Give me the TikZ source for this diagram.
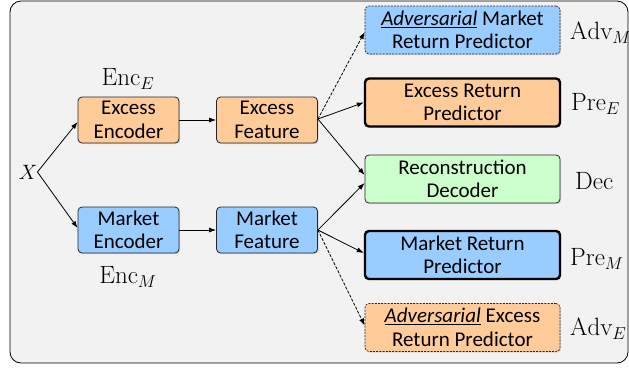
\documentclass[tikz,border=0pt]{standalone}
\usepackage{fontspec}
\newfontfamily\boxfont{Carlito}
\usetikzlibrary{arrows.meta,shadows,calc}
\definecolor{bgc}{HTML}{F2F2F2}
\definecolor{orfill}{HTML}{FFCC99}
\definecolor{blfill}{HTML}{99CCFF}
\definecolor{grfill}{HTML}{CCFFCC}
\definecolor{edgec}{HTML}{262626}
\begin{document}
\begin{tikzpicture}[x=1pt,y=-1pt,
  box/.style={draw=edgec,line width=0.8pt,rounded corners=4pt,align=center,inner sep=0pt,
    font=\boxfont\fontsize{21}{23.5}\selectfont,
    drop shadow={opacity=0.25,shadow xshift=1.2pt,shadow yshift=-1.2pt}},
  smallbox/.style={box,minimum width=101pt,minimum height=46pt},
  bigbox/.style={box,minimum width=195pt,minimum height=48pt},
  strong/.style={line width=2.4pt,draw=black},
  dashbox/.style={dash pattern=on 2pt off 1.2pt,line width=0.7pt},
  lbl/.style={inner sep=0pt,font=\fontsize{25}{27}\selectfont},
  arr/.style={-{Latex[length=7pt,width=5pt]},line width=0.8pt,black},
  darr/.style={arr,dash pattern=on 3pt off 1.5pt}]
\useasboundingbox (0,0) rectangle (629,368);
\draw[fill=bgc,draw=black,line width=0.8pt,rounded corners=11pt] (10,1) rectangle (628,363);

\node[lbl,font=\fontsize{21}{23}\selectfont] (x) at (28,172) {$X$};
\node[smallbox,fill=orfill] (eenc) at (128.5,120) {Excess\\Encoder};
\node[smallbox,fill=orfill] (efeat) at (267,120) {Excess\\Feature};
\node[smallbox,fill=blfill] (menc) at (128.5,230) {Market\\Encoder};
\node[smallbox,fill=blfill] (mfeat) at (267,230) {Market\\Feature};
\node[lbl] (encE) at (128,79) {$\mathrm{Enc}_E$};
\node[lbl] (encM) at (128,277) {$\mathrm{Enc}_M$};

\node[bigbox,fill=blfill,dashbox] (advm) at (462.5,30) {\underline{\textit{Adversarial}} Market\\Return Predictor};
\node[bigbox,fill=orfill,strong] (pree) at (462.5,102.5) {Excess Return\\Predictor};
\node[bigbox,fill=grfill] (dec) at (462.5,179) {Reconstruction\\Decoder};
\node[bigbox,fill=blfill,strong] (prem) at (462.5,255) {Market Return\\Predictor};
\node[bigbox,fill=orfill,dashbox] (adve) at (462.5,327.5) {\underline{\textit{Adversarial}} Excess\\Return Predictor};

\node[lbl,anchor=west] (ladvm) at (570,33) {$\mathrm{Adv}_M$};
\node[lbl,anchor=west] (lpree) at (571,104) {$\mathrm{Pre}_E$};
\node[lbl,anchor=west] (ldec) at (575,181) {$\mathrm{Dec}$};
\node[lbl,anchor=west] (lprem) at (570,259) {$\mathrm{Pre}_M$};
\node[lbl,anchor=west] (ladve) at (570,329) {$\mathrm{Adv}_E$};

\draw[arr] (x.east) -- ($(eenc.west)+(0,2)$);
\draw[arr] (x.east) -- ($(menc.west)+(0,-2)$);
\draw[arr] (eenc) -- (efeat);
\draw[arr] (menc) -- (mfeat);
\coordinate (eo) at ($(efeat.east)+(0,-1)$);
\coordinate (mo) at ($(mfeat.east)+(0,0)$);
\draw[darr] (eo) -- ($(advm.west)+(0,2)$);
\draw[arr] (eo) -- (pree.west);
\draw[arr] (eo) -- ($(dec.west)+(0,-4)$);
\draw[arr] (mo) -- ($(dec.west)+(0,4)$);
\draw[arr] (mo) -- ($(prem.west)+(0,-2)$);
\draw[darr] (mo) -- ($(adve.west)+(0,-2)$);
\end{tikzpicture}
\end{document}
